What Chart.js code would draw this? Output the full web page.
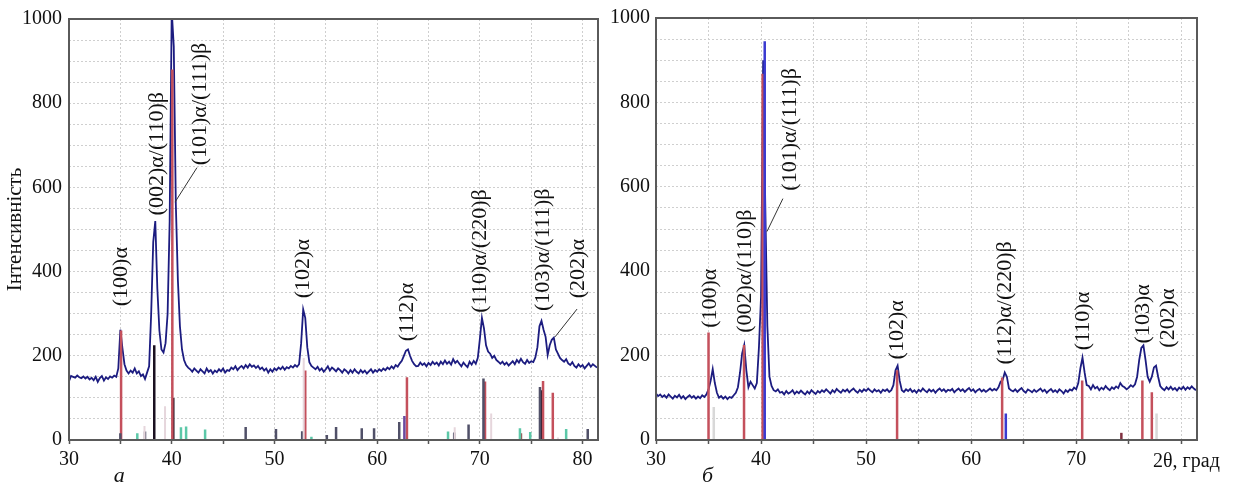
<!DOCTYPE html>
<html>
<head>
<meta charset="utf-8">
<script src="https://cdn.jsdelivr.net/npm/chart.js@4.4.1/dist/chart.umd.min.js"></script>
<style>
    body { margin: 0; background: #fff; }
    #wrap { position: relative; width: 1235px; height: 485px; }
    canvas { position: absolute; top: 0; }
</style>
</head>
<body>
<div id="wrap">
    <canvas id="PanelA" width="610" height="485" style="left:0px"></canvas>
    <canvas id="PanelB" width="625" height="485" style="left:610px"></canvas>
</div>
<script>
// scan grid, 2theta in degrees
const scanStart = 30;
const scanStep = 0.2;

// measured intensity, panel a (30.0 .. 81.4)
const curveA = [
    140, 152, 150, 148, 153, 149, 147, 151, 146, 150,
    144, 148, 142, 150, 138, 147, 152, 141, 149, 145,
    151, 148, 153, 150, 170, 262, 218, 180, 165, 158,
    165, 160, 170, 158, 163, 152, 156, 145, 160, 175,
    300, 470, 520, 360, 260, 215, 208, 230, 300, 520,
    1020, 935, 560, 380, 270, 215, 190, 178, 172, 168,
    162, 170, 165, 160, 168, 163, 158, 170, 162, 166,
    158, 165, 161, 168, 163, 170, 160, 166, 164, 172,
    168, 175, 166, 172, 176, 170, 178, 172, 180, 174,
    177, 171, 176, 168, 172, 165, 170, 160, 168, 162,
    170, 166, 172, 168, 174, 167, 173, 170, 176, 172,
    178, 174, 180, 230, 310, 290, 220, 185, 176, 172,
    168, 174, 165, 170, 162, 168, 175, 165, 172, 168,
    163, 170, 166, 160, 168, 164, 158, 166, 160, 168,
    162, 158, 166, 160, 165, 158, 163, 168, 160, 166,
    162, 168, 164, 170, 166, 172, 168, 175, 170, 178,
    174, 182, 188, 200, 212, 215, 200, 188, 180, 175,
    176, 184, 178, 182, 175, 183, 178, 186, 180, 184,
    177, 186, 180, 189, 181, 186, 179, 192, 183, 188,
    181, 175, 184, 178, 173, 186, 179, 188, 181, 195,
    240, 290, 265, 225, 210, 205, 195, 200, 190, 186,
    181, 186, 179, 184, 177, 182, 187, 180, 190, 184,
    193, 185, 181, 190, 183, 187, 185, 196, 220, 270,
    283, 262, 245, 202, 225, 238, 243, 215, 205, 195,
    190, 186, 192, 182, 178, 185, 176, 172, 180, 174,
    178, 170, 176, 182, 174, 180, 176, 172
];

// measured intensity, panel b
const curveB = [
    110, 104, 108, 102, 106, 100, 108, 103, 98, 105,
    101, 107, 99, 104, 97, 102, 106, 100, 104, 98,
    103, 99, 106, 102, 108, 120, 140, 168, 135, 112,
    100, 104, 98, 103, 97, 102, 100, 106, 112, 125,
    160, 205, 225, 165, 125, 138, 130, 122, 135, 220,
    340, 900, 560, 270, 150, 128, 118, 115, 120, 112,
    114, 108, 116, 110, 113, 118, 109, 115, 111, 117,
    112, 108, 115, 110, 118, 113, 109, 116, 112, 118,
    114, 120, 115, 110, 118, 113, 121, 116, 112, 119,
    115, 120, 113, 118, 122, 116, 112, 119, 114, 120,
    116, 122, 117, 113, 120, 115, 118, 112, 119, 116,
    120, 114, 118, 130, 165, 176, 140, 118, 114, 120,
    116, 121, 114, 118, 112, 119, 115, 122, 117, 113,
    120, 115, 119, 112, 118, 122, 116, 120, 114, 119,
    117, 121, 113, 118, 122, 116, 120, 114, 119, 123,
    116, 120, 113, 118, 121, 115, 119, 114, 118, 122,
    117, 121, 118, 125, 138, 142, 160, 150, 122, 118,
    115, 120, 114, 119, 123, 116, 112, 120, 117, 113,
    119, 114, 118, 122, 115, 119, 112, 117, 121, 114,
    118, 113, 120, 116, 110, 118, 114, 120, 117, 124,
    120, 135, 170, 195, 160, 130, 128, 120, 130, 122,
    126, 118, 124, 120, 128, 122, 118, 125, 121, 127,
    123, 135, 128, 125, 120, 124, 130, 126, 132, 150,
    190, 218, 224, 190, 150, 138, 150, 172, 176, 150,
    128, 122, 118, 125, 120, 126, 119, 123, 117, 124,
    120, 126, 119, 125, 121, 127, 122, 118
];

// reference lines (card sticks), panel a
const redPosA = [35.07, 40.06, 53.0, 62.9, 70.5, 76.15, 77.1];
const redHA = [260, 880, 165, 149, 139, 140, 112];
const darkPosA = [35.0, 37.4, 47.2, 50.15, 52.7, 55.1, 56.0, 58.5, 59.7, 62.15, 67.5, 68.9, 70.35, 75.85, 80.5];
const darkHA = [16, 20, 31, 26, 21, 12, 31, 28, 28, 43, 18, 37, 146, 126, 26];
const blackPosA = [38.3, 40.15, 76.0];
const blackHA = [225, 100, 118];
const purplePosA = [62.65];
const purpleHA = [57];
const tealPosA = [36.65, 40.9, 41.4, 43.25, 53.6, 66.9, 73.9, 74.9, 78.4];
const tealHA = [16, 30, 32, 25, 8, 20, 28, 19, 26];
const palePosA = [39.35, 37.35, 67.55, 52.85, 71.1, 77.6];
const paleHA = [80, 33, 30, 195, 63, 6];
const brownPosA = [74.0];
const brownHA = [16];

// reference lines, panel b
const redPosB = [35.0, 38.38, 40.15, 52.95, 62.95, 70.57, 76.3, 77.2];
const redHB = [255, 225, 868, 165, 148, 141, 141, 113];
const bluePosB = [40.35, 63.3];
const blueHB = [945, 63];
const greyPosB = [35.5, 77.65];
const greyHB = [78, 63];
const brownPosB = [74.3];
const brownHB = [17];

// peak names: text, 2theta, intensity of label centre
const namesA = ['(100)α', '(002)α/(110)β', '(101)α/(111)β', '(102)α', '(112)α', '(110)α/(220)β', '(103)α/(111)β', '(202)α'];
const angA = [35.06, 38.55, 42.75, 52.8, 62.9, 70.0, 76.15, 79.55];
const levA = [388, 680, 798, 407, 304, 449, 452, 407];
const leadersA = [[42.46, 647, 40.32, 565], [79.46, 311, 77.32, 245]];

const namesB = ['(100)α', '(002)α/(110)β', '(101)α/(111)β', '(102)α', '(112)α/(220)β', '(110)α', '(103)α', '(202)α'];
const angB = [35.14, 38.47, 42.75, 52.93, 63.2, 70.63, 76.34, 78.72];
const levB = [336, 400, 736, 261, 325, 282, 299, 289];
const leadersB = [[42.08, 572, 40.56, 494]];

Chart.defaults.font.family = "'Liberation Serif', 'Times New Roman', serif";
Chart.defaults.font.size = 20;
Chart.defaults.color = '#111';

function toPoints(vals) {
    let pts = [];
    for (let i = 0; i < vals.length; i++) {
        pts.push({x: +(scanStart + i * scanStep).toFixed(1), y: vals[i]});
    }
    return pts;
}

function sticks(pos, h) {
    let pts = [];
    for (let i = 0; i < pos.length; i++) {
        pts.push({x: pos[i], y: 0}, {x: pos[i], y: h[i]}, {x: pos[i], y: null});
    }
    return pts;
}

function stickSet(pos, h, color, w) {
    return {
        data: sticks(pos, h),
        borderColor: color,
        borderWidth: w || 2.5,
        pointRadius: 0,
        spanGaps: false,
        order: 0
    };
}

function makeDecor(p) {
    return {
        id: 'decor',
        afterDatasetsDraw(chart) {
            const ctx = chart.ctx;
            const a = chart.chartArea;
            const xs = chart.scales.x;
            const ys = chart.scales.y;
            ctx.save();
            ctx.strokeStyle = '#5a5a5a';
            ctx.lineWidth = 2;
            ctx.strokeRect(a.left, a.top, a.right - a.left, a.bottom - a.top);

            ctx.strokeStyle = '#333';
            ctx.lineWidth = 1;
            p.leaders.forEach(l => {
                ctx.beginPath();
                ctx.moveTo(xs.getPixelForValue(l[0]), ys.getPixelForValue(l[1]));
                ctx.lineTo(xs.getPixelForValue(l[2]), ys.getPixelForValue(l[3]));
                ctx.stroke();
            });

            ctx.fillStyle = '#111';
            ctx.font = "22px 'Liberation Serif'";
            ctx.textAlign = 'center';
            ctx.textBaseline = 'middle';
            p.names.forEach((t, i) => {
                ctx.save();
                ctx.translate(xs.getPixelForValue(p.ang[i]), ys.getPixelForValue(p.lev[i]));
                ctx.rotate(-Math.PI / 2);
                ctx.fillText(t, 0, 0);
                ctx.restore();
            });

            ctx.textBaseline = 'alphabetic';
            ctx.font = "italic 22px 'Liberation Serif'";
            ctx.fillText(p.letter, xs.getPixelForValue(34.9), a.bottom + 42);
            if (p.axisName) {
                ctx.font = "20px 'Liberation Serif'";
                ctx.textAlign = 'left';
                ctx.fillText(p.axisName, a.right - 44, a.bottom + 27);
            }
            ctx.restore();
        }
    };
}

function makeConfig(datasets, p) {
    return {
        type: 'line',
        data: {datasets: datasets},
        options: {
            responsive: false,
            animation: false,
            devicePixelRatio: 1,
            layout: {padding: {left: 0, right: p.padRight, top: 15, bottom: 0}},
            plugins: {legend: {display: false}, tooltip: {enabled: false}},
            elements: {line: {tension: 0}},
            scales: {
                x: {
                    type: 'linear',
                    min: 30,
                    max: 81.5,
                    offset: false,
                    afterFit: s => { s.height = 45; },
                    border: {display: false, dash: [2, 2]},
                    grid: {color: '#cfcfcf', tickColor: '#555', tickLength: 4, tickWidth: 1.5},
                    ticks: {
                        stepSize: 5,
                        includeBounds: false,
                        autoSkip: false,
                        maxRotation: 0,
                        padding: 4,
                        callback: v => (v % 10 === 0 && !(p.hide80 && v === 80)) ? v : ''
                    }
                },
                y: {
                    min: 0,
                    max: 1000,
                    afterFit: s => { s.width = p.yWidth; },
                    border: {display: false, dash: [2, 2]},
                    grid: {color: '#cfcfcf', drawTicks: false},
                    ticks: {
                        stepSize: 50,
                        padding: p.yPad,
                        autoSkip: false,
                        callback: v => v % 200 === 0 ? v : ''
                    },
                    title: {
                        display: !!p.yTitle,
                        text: p.yTitle || '',
                        font: {size: 21},
                        padding: {top: 3, bottom: 0}
                    }
                }
            }
        },
        plugins: [makeDecor(p)]
    };
}

const curveStyle = {
    borderColor: '#1c1c80',
    borderWidth: 1.8,
    pointRadius: 0,
    order: 1
};

let ChartA = new Chart(
    document.getElementById('PanelA'),
    makeConfig([
        Object.assign({data: toPoints(curveA)}, curveStyle),
        stickSet(palePosA, paleHA, '#e6d6dc', 2),
        stickSet(tealPosA, tealHA, '#5cc8a8'),
        stickSet(darkPosA, darkHA, '#505068'),
        stickSet(brownPosA, brownHA, '#a05050'),
        stickSet(purplePosA, purpleHA, '#6a4aa0'),
        stickSet(redPosA, redHA, '#c4505c'),
        stickSet(blackPosA, blackHA, '#1a1020')
    ], {
        padRight: 12, yWidth: 69, yPad: 7, yTitle: 'Інтенсивність',
        names: namesA, ang: angA, lev: levA, leaders: leadersA, letter: 'а'
    })
);

let ChartB = new Chart(
    document.getElementById('PanelB'),
    makeConfig([
        Object.assign({data: toPoints(curveB)}, curveStyle),
        stickSet(greyPosB, greyHB, '#d8d8d8'),
        stickSet(bluePosB, blueHB, '#3a3ad0'),
        stickSet(brownPosB, brownHB, '#803040'),
        stickSet(redPosB, redHB, '#c4505c')
    ], {
        padRight: 38, yWidth: 46, yPad: 6, hide80: true,
        names: namesB, ang: angB, lev: levB, leaders: leadersB, letter: 'б', axisName: '2θ, град'
    })
);
</script>
</body>
</html>
